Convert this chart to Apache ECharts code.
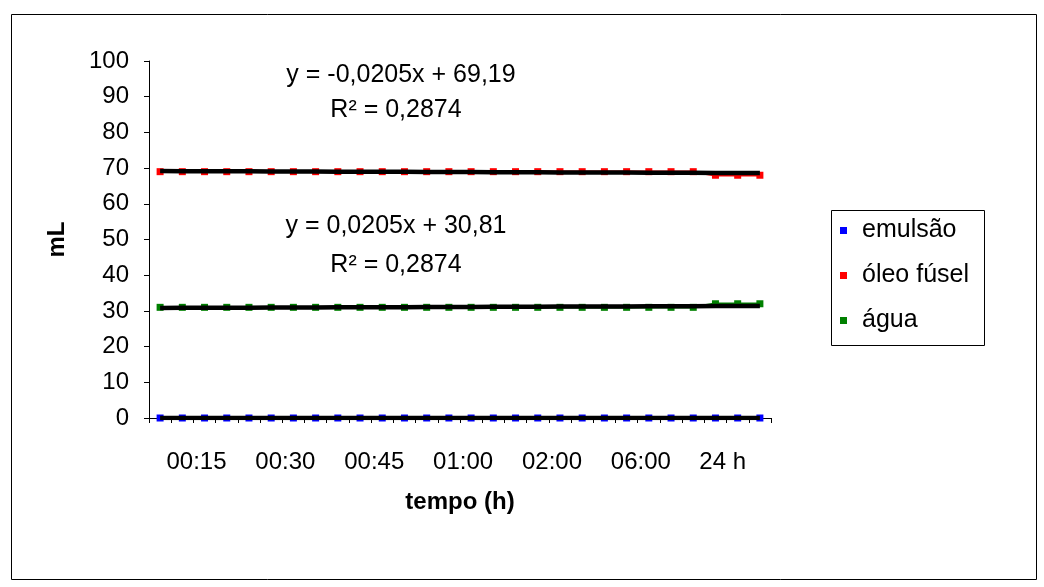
<!DOCTYPE html>
<html>
<head>
<meta charset="utf-8">
<script src="https://cdn.jsdelivr.net/npm/echarts@6/dist/echarts.min.js"></script>
<style>html,body{margin:0;padding:0;background:#fff}#c{width:1044px;height:587px}</style>
</head>
<body>
<div id="c"></div>
<script>
// sample number of each reading (28 readings)
const samples = [1,2,3,4,5,6,7,8,9,10,11,12,13,14,15,16,17,18,19,20,21,22,23,24,25,26,27,28];
// tick labels shown every 4th reading
const tickLabels = ['00:15','00:30','00:45','01:00','02:00','06:00','24 h'];
const seriesNames = ['emulsão','óleo fúsel','água'];
const emulsao = [0,0,0,0,0,0,0,0,0,0,0,0,0,0,0,0,0,0,0,0,0,0,0,0,0,0,0,0];
const oleo = [69,69,69,69,69,69,69,69,69,69,69,69,69,69,69,69,69,69,69,69,69,69,69,69,69,68,68,68];
const agua = [31,31,31,31,31,31,31,31,31,31,31,31,31,31,31,31,31,31,31,31,31,31,31,31,31,32,32,32];
const eqOleo = ['y = -0,0205x + 69,19','R² = 0,2874'];
const eqAgua = ['y = 0,0205x + 30,81','R² = 0,2874'];

function trend(ys){
  const n = ys.length; let sx=0,sy=0,sxx=0,sxy=0;
  samples.forEach((x,i)=>{sx+=x;sy+=ys[i];sxx+=x*x;sxy+=x*ys[i];});
  const b=(n*sxy-sx*sy)/(n*sxx-sx*sx); const a=(sy-b*sx)/n;
  return samples.map(x=>a+b*x);
}
const FONT='Liberation Sans, Arial, sans-serif';
const FS=24;   // axis labels
const FT=25;   // equations & legend
const colors=['#0000FF','#FF0000','#008000'];
const dataSets=[emulsao,oleo,agua];

const series=[];
dataSets.forEach((d,i)=>{
  series.push({name:seriesNames[i],type:'line',data:d,symbol:'rect',symbolSize:7,
    lineStyle:{color:colors[i],width:2.5},itemStyle:{color:colors[i]},z:2,animation:false});
});
dataSets.forEach((d,i)=>{
  series.push({name:'trend'+i,type:'line',data:trend(d),symbol:'none',
    lineStyle:{color:'#000',width:4.5},z:5,animation:false,silent:true});
});

const chart=echarts.init(document.getElementById('c'));
chart.setOption({
  animation:false,
  textStyle:{fontFamily:FONT},
  grid:{left:149,right:273,top:61,bottom:169},
  xAxis:{type:'category',data:samples,boundaryGap:true,
    axisLine:{lineStyle:{color:'#000',width:1}},
    axisTick:{show:true,interval:0,length:5,inside:false,lineStyle:{color:'#000'}},
    axisLabel:{interval:0,margin:32,color:'#000',fontSize:FS,fontFamily:FONT,
      formatter:(v,idx)=>{ if(idx%4!==2) return ''; const k=(idx-2)/4; const t=tickLabels[k]; return k===tickLabels.length-1?'{w|'+t+'}':'{n|'+t+'}'; },
      rich:{n:{fontSize:FS,fontFamily:FONT,color:'#000',padding:[0,16,0,0]},w:{fontSize:FS,fontFamily:FONT,color:'#000',padding:[0,30,0,0]}}},
    name:'tempo (h)',nameLocation:'middle',nameGap:72,
    nameTextStyle:{fontSize:FS,fontWeight:'bold',color:'#000',fontFamily:FONT},
    splitLine:{show:false}},
  yAxis:{type:'value',min:0,max:100,interval:10,
    axisLine:{show:true,lineStyle:{color:'#000',width:1}},
    axisTick:{show:true,length:5,lineStyle:{color:'#000'}},
    axisLabel:{margin:20,color:'#000',fontSize:FS,fontFamily:FONT},
    splitLine:{show:false},
    name:'mL',nameLocation:'middle',nameGap:80,nameRotate:90,
    nameTextStyle:{fontSize:FS,fontWeight:'bold',color:'#000',fontFamily:FONT}},
  legend:{data:seriesNames,orient:'vertical',left:840,top:218,icon:'rect',itemWidth:7,itemHeight:7,
    itemGap:20,padding:0,textStyle:{fontSize:FT,fontFamily:FONT,color:'#000',padding:[0,0,0,10]}},
  graphic:[
    {type:'rect',left:9,top:12,shape:{width:1025,height:565},style:{fill:null,stroke:'#000',lineWidth:1},silent:true},
    {type:'rect',left:829,top:208,shape:{width:153,height:135},style:{fill:null,stroke:'#000',lineWidth:1},silent:true},
    {type:'text',x:401,y:75,style:{text:eqOleo[0],font:FT+'px '+FONT,fill:'#000',textAlign:'center',textVerticalAlign:'middle'}},
    {type:'text',x:396,y:110,style:{text:eqOleo[1],font:FT+'px '+FONT,fill:'#000',textAlign:'center',textVerticalAlign:'middle'}},
    {type:'text',x:396,y:226,style:{text:eqAgua[0],font:FT+'px '+FONT,fill:'#000',textAlign:'center',textVerticalAlign:'middle'}},
    {type:'text',x:396,y:265,style:{text:eqAgua[1],font:FT+'px '+FONT,fill:'#000',textAlign:'center',textVerticalAlign:'middle'}}
  ],
  series:series
});
</script>
</body>
</html>
